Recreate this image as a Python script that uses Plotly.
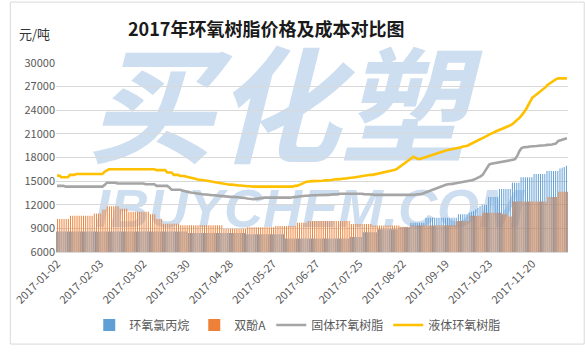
import pandas as pd
import plotly.graph_objects as go

# ---------------- data ----------------
holidays = ["2017-01-27", "2017-01-30", "2017-01-31", "2017-02-01", "2017-02-02",
            "2017-04-03", "2017-04-04", "2017-05-01", "2017-05-29", "2017-05-30",
            "2017-10-02", "2017-10-03", "2017-10-04", "2017-10-05", "2017-10-06"]
extra_workdays = ["2017-01-22", "2017-02-04", "2017-04-01", "2017-05-27", "2017-09-30"]
days = pd.bdate_range("2017-01-02", "2017-12-12", freq="C", holidays=holidays)
days = days.union(pd.to_datetime(extra_workdays)).sort_values()
dates = [d.strftime("%Y-%m-%d") for d in days]

tick_labels = ["2017-01-02", "2017-02-03", "2017-03-02", "2017-03-30", "2017-04-28",
               "2017-05-27", "2017-06-27", "2017-07-25", "2017-08-22", "2017-09-19",
               "2017-10-23", "2017-11-20"]

ech = [  # 环氧氯丙烷
    8600, 8600, 8600, 8600, 8600, 8600, 8600, 8600, 8600, 8600, 8600, 8600, 8600, 8600, 8600, 8600, 8600, 8600, 8600, 8600,
    8600, 8600, 8600, 8600, 8600, 8600, 8600, 8600, 8600, 8600, 8600, 8600, 8600, 8600, 8600, 8600, 8600, 8600, 8600, 8600,
    8600, 8600, 8600, 8600, 8600, 8600, 8600, 8600, 8600, 8600, 8600, 8600, 8600, 8600, 8600, 8600, 8600, 8600, 8600, 8600,
    8600, 8400, 8400, 8400, 8400, 8400, 8400, 8400, 8400, 8400, 8400, 8400, 8400, 8400, 8400, 8400, 8400, 8400, 8400, 8400,
    8400, 8400, 8400, 8400, 8400, 8400, 8400, 8400, 8250, 8250, 8250, 8250, 8250, 8250, 8250, 8250, 8250, 8250, 8250, 8250,
    8250, 8250, 8250, 8250, 8250, 8250, 7700, 7700, 7700, 7700, 7700, 7700, 7700, 7700, 7700, 7700, 7700, 7700, 7700, 7700,
    7700, 7700, 7700, 7700, 7700, 7700, 7700, 7700, 7700, 7700, 7700, 7700, 7700, 7700, 7700, 7700, 7900, 7900, 7900, 7900,
    7900, 7900, 8500, 8500, 8500, 8500, 8500, 8500, 8500, 8900, 8900, 8900, 8900, 8900, 8900, 8900, 8900, 8900, 8900, 9150,
    9150, 9150, 9150, 9150, 9700, 9700, 9700, 9700, 9700, 9700, 9700, 10350, 10350, 10350, 10350, 10350, 10350, 10350, 10350, 10350,
    10350, 10350, 10350, 10350, 10350, 10350, 10800, 10800, 10800, 10800, 10800, 11000, 11100, 11200, 11400, 11600, 11800, 12000, 12000, 12000,
    13000, 13000, 13000, 13000, 13000, 14000, 14000, 14000, 14000, 14000, 14000, 14800, 14800, 14800, 14800, 15500, 15500, 15500, 15500, 15500,
    15500, 15900, 15900, 15900, 15900, 15900, 15900, 16300, 16300, 16300, 16300, 16300, 16300, 16600, 16700, 16800, 16950,
]

bpa = [  # 双酚A
    10200, 10200, 10200, 10200, 10200, 10200, 10600, 10600, 10600, 10600, 10600, 10600, 10600, 10600, 10600, 10600, 10600, 10900, 10900, 10900,
    10900, 11400, 11400, 11800, 11800, 11800, 11800, 11800, 11800, 11500, 11500, 11500, 11500, 11100, 11100, 11100, 11100, 11100, 11100, 11100,
    11100, 11100, 11100, 10800, 10800, 10800, 10200, 10200, 10200, 9600, 9600, 9600, 9600, 9600, 9600, 9600, 9600, 9400, 9400, 9400,
    9400, 9400, 9400, 9400, 9400, 9400, 9400, 9400, 9400, 9400, 9400, 9400, 9400, 9400, 9400, 9400, 9400, 8950, 8950, 8950,
    8950, 8950, 8950, 8950, 8950, 8950, 8950, 8950, 9150, 9150, 9150, 9150, 9150, 9150, 9150, 9150, 9150, 9150, 9150, 9150,
    9150, 9300, 9300, 9300, 9300, 9300, 9300, 9300, 9300, 9300, 9300, 9700, 9700, 9700, 9700, 9700, 9950, 9950, 9950, 9950,
    9950, 9950, 9950, 9950, 9950, 9950, 9950, 9950, 9950, 9950, 9950, 9950, 9950, 9950, 9950, 9950, 9550, 9550, 9550, 9550,
    9550, 9550, 9550, 9550, 9550, 9550, 9350, 9350, 9350, 9350, 9350, 9350, 9350, 9350, 9350, 9350, 9350, 9350, 9350, 9200,
    9200, 9200, 9200, 9200, 9350, 9350, 9350, 9350, 9350, 9350, 9350, 9350, 9350, 9350, 9350, 9350, 9400, 9400, 9400, 9400,
    9400, 9400, 9400, 9400, 9400, 9950, 9950, 9950, 9950, 9950, 9950, 10600, 10600, 10600, 10600, 10600, 10600, 11000, 11000, 11000,
    11000, 11000, 11000, 11000, 11000, 11000, 10800, 10800, 10800, 10500, 10500, 12400, 12400, 12400, 12400, 12400, 12400, 12400, 12400, 12400,
    12400, 12400, 12400, 12400, 12400, 12400, 12400, 13000, 13000, 13000, 13000, 13000, 13650, 13650, 13650, 13650, 13650,
]

solid = [  # 固体环氧树脂
    14400, 14400, 14400, 14400, 14300, 14300, 14300, 14300, 14300, 14300, 14300, 14300, 14300, 14300, 14300, 14300, 14300, 14300, 14300, 14300,
    14300, 14300, 14500, 14800, 14800, 14800, 14800, 14800, 14700, 14700, 14700, 14700, 14700, 14700, 14700, 14700, 14700, 14700, 14700, 14700,
    14700, 14600, 14600, 14600, 14600, 14600, 14400, 14400, 14400, 14400, 14400, 14400, 14200, 13900, 13900, 13900, 13900, 13900, 13800, 13700,
    13650, 13600, 13550, 13500, 13500, 13450, 13400, 13350, 13300, 13300, 13250, 13200, 13200, 13200, 13150, 13150, 13100, 13100, 13050, 13050,
    13000, 13000, 13000, 12950, 12950, 12900, 12900, 12850, 12800, 12750, 12700, 12700, 12750, 12800, 12850, 12900, 12900, 12900, 12900, 12900,
    12900, 12900, 12900, 12850, 12850, 12850, 12850, 12850, 12900, 12950, 12950, 13000, 13050, 13100, 13150, 13150, 13150, 13200, 13200, 13200,
    13200, 13200, 13200, 13250, 13250, 13250, 13250, 13300, 13300, 13350, 13350, 13400, 13400, 13450, 13450, 13450, 13450, 13450, 13400, 13400,
    13400, 13400, 13350, 13350, 13300, 13300, 13300, 13250, 13250, 13200, 13200, 13200, 13200, 13200, 13200, 13200, 13200, 13200, 13200, 13200,
    13200, 13200, 13200, 13200, 13250, 13250, 13300, 13300, 13350, 13400, 13500, 13600, 13700, 13800, 13900, 14000, 14100, 14200, 14400, 14500,
    14550, 14600, 14600, 14650, 14700, 14750, 14800, 14800, 14850, 14900, 14950, 15000, 15100, 15200, 15300, 15500, 15600, 15800, 16200, 16700,
    17100, 17200, 17250, 17300, 17300, 17350, 17400, 17450, 17500, 17600, 17650, 17700, 17800, 18200, 18800, 19200, 19300, 19300, 19350, 19400,
    19400, 19450, 19450, 19500, 19500, 19550, 19550, 19600, 19600, 19650, 19700, 19800, 20100, 20200, 20300, 20400, 20450,
]

liquid = [  # 液体环氧树脂
    15700, 15700, 15500, 15500, 15500, 15500, 15800, 15800, 15800, 15900, 15900, 15900, 15900, 15900, 15900, 15900, 15900, 15900, 15900, 15900,
    15900, 15900, 16200, 16400, 16500, 16500, 16500, 16500, 16500, 16500, 16500, 16500, 16500, 16500, 16500, 16500, 16500, 16500, 16500, 16500,
    16500, 16500, 16500, 16500, 16500, 16500, 16400, 16400, 16400, 16400, 16400, 16100, 16100, 16100, 15800, 15800, 15800, 15650, 15650, 15650,
    15550, 15500, 15450, 15350, 15300, 15200, 15200, 15150, 15100, 15050, 15000, 15000, 14900, 14850, 14800, 14750, 14700, 14650, 14600, 14600,
    14550, 14550, 14500, 14500, 14450, 14450, 14400, 14400, 14350, 14350, 14300, 14300, 14300, 14300, 14300, 14300, 14300, 14300, 14300, 14300,
    14300, 14300, 14300, 14300, 14300, 14300, 14300, 14300, 14300, 14300, 14400, 14400, 14500, 14600, 14750, 14900, 14950, 14950, 15000, 15000,
    15000, 15000, 15050, 15050, 15100, 15100, 15100, 15150, 15200, 15200, 15250, 15250, 15300, 15300, 15350, 15400, 15400, 15450, 15500, 15550,
    15600, 15600, 15650, 15700, 15750, 15800, 15800, 15850, 15900, 15950, 16000, 16050, 16100, 16200, 16250, 16300, 16400, 16500, 16700, 16850,
    17000, 17200, 17400, 17650, 17900, 18100, 17950, 17800, 17800, 17900, 18000, 18100, 18200, 18300, 18400, 18500, 18600, 18700, 18800, 18850,
    18900, 18950, 19000, 19050, 19100, 19200, 19250, 19300, 19400, 19450, 19500, 19650, 19800, 19900, 20000, 20200, 20300, 20450, 20600, 20750,
    20900, 21000, 21150, 21300, 21400, 21500, 21600, 21700, 21800, 21950, 22100, 22300, 22600, 22800, 23000, 23300, 23700, 24100, 24600, 25100,
    25600, 25800, 26000, 26200, 26400, 26700, 26900, 27200, 27400, 27600, 27800, 27950, 28050, 28050, 28050, 28050, 28050,
]

# ---------------- figure ----------------
CJK = "Noto Sans CJK SC"
W, H = 585, 352
ML, MR, MT, MB = 47, 17, 63, 95
PW, PH = W - ML - MR, H - MT - MB


def px(xp):
    return (xp - ML) / PW


def py(yp):
    return (H - MB - yp) / PH


fig = go.Figure()
fig.add_trace(go.Bar(x=dates, y=ech, name="环氧氯丙烷",
                     marker=dict(color="rgba(91,155,213,0.97)", line=dict(width=0))))
fig.add_trace(go.Bar(x=dates, y=bpa, name="双酚A",
                     marker=dict(color="rgba(237,125,49,0.97)", line=dict(width=0))))
fig.add_trace(go.Scatter(x=dates, y=solid, name="固体环氧树脂", mode="lines",
                         line=dict(color="#A5A5A5", width=2.6)))
fig.add_trace(go.Scatter(x=dates, y=liquid, name="液体环氧树脂", mode="lines",
                         line=dict(color="#FFC000", width=2.6)))

shapes = [
    # watermark (behind the data)
    dict(type="rect", xref="paper", yref="paper", layer="below",
         x0=px(88), x1=px(456), y0=py(184), y1=py(54),
         line=dict(width=0), fillcolor="rgba(0,0,0,0)",
         label=dict(text="买化塑", font=dict(family=CJK, size=126, color="#cddef0",
                                            weight="bold", style="italic"))),
    dict(type="rect", xref="paper", yref="paper", layer="below",
         x0=px(95), x1=px(515), y0=py(238), y1=py(176),
         line=dict(width=0), fillcolor="rgba(0,0,0,0)",
         label=dict(text="IBUYCHEM.COM", font=dict(family="Liberation Sans", size=54, color="#cddef0",
                                                  weight="bold", style="italic"))),
    # chart-area border
    dict(type="rect", xref="paper", yref="paper", layer="above",
         x0=px(0.5), x1=px(W - 0.5), y0=py(H - 0.5), y1=py(0.5),
         line=dict(color="#d9d9d9", width=1), fillcolor="rgba(0,0,0,0)"),
]

fig.update_layout(
    width=W, height=H,
    margin=dict(l=ML, r=MR, t=MT, b=MB),
    paper_bgcolor="white", plot_bgcolor="rgba(0,0,0,0)",
    barmode="group", bargap=0.1, bargroupgap=0,
    font=dict(family=CJK, color="#595959"),
    showlegend=True,
    legend=dict(orientation="h", x=px(293), xanchor="center", y=py(332), yanchor="middle",
                font=dict(family=CJK, size=12, color="#595959"), traceorder="normal",
                itemwidth=30, bgcolor="rgba(0,0,0,0)"),
    shapes=shapes,
    annotations=[
        dict(text="2017年环氧树脂价格及成本对比图", xref="paper", yref="paper",
             x=px(261), y=py(27), xanchor="center", yanchor="middle", showarrow=False,
             font=dict(family=CJK, size=18, color="#1a1a1a", weight="bold")),
        dict(text="元/吨", xref="paper", yref="paper",
             x=px(25), y=py(33), xanchor="center", yanchor="middle", showarrow=False,
             font=dict(family=CJK, size=13, color="#333333")),
    ],
)

fig.update_xaxes(type="category", tickmode="array", tickvals=tick_labels, ticktext=tick_labels,
                 tickangle=-45, tickfont=dict(family=CJK, size=11, color="#595959"),
                 showgrid=False, showline=True, linecolor="#d9d9d9", linewidth=1,
                 ticks="", range=[-0.5, len(dates) - 0.5], fixedrange=True)
fig.update_yaxes(range=[6000, 30000], dtick=3000, tickformat="d",
                 tickfont=dict(family=CJK, size=11, color="#595959"),
                 showgrid=True, gridcolor="#d9d9d9", gridwidth=1, zeroline=False,
                 showline=False, ticks="", fixedrange=True)

fig.write_html("out.html")
